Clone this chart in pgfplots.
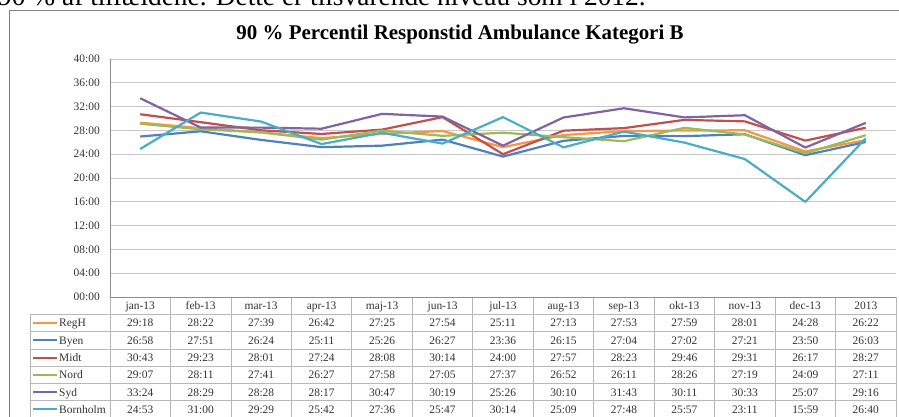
\documentclass[border=0pt]{standalone}
\usepackage{fontspec}
\setmainfont{Liberation Serif}
\usepackage{pgfplots}
\pgfplotsset{compat=1.18}
\definecolor{cRegH}{HTML}{F79646}
\definecolor{cByen}{HTML}{4F81BD}
\definecolor{cMidt}{HTML}{C0504D}
\definecolor{cNord}{HTML}{9BBB59}
\definecolor{cSyd}{HTML}{8064A2}
\definecolor{cBorn}{HTML}{4BACC6}
\newcommand{\tf}{\fontsize{11.5}{13}\selectfont}
\def\cw{60.4615}
\newcommand{\tablerow}[4]{%
  \draw[#3, line width=2bp] (33,{93.05-17.3*#1}) -- (57,{93.05-17.3*#1});
  \node[anchor=base west, inner sep=0, font=\tf, text=black!80] at (59,{89.05-17.3*#1}) {#2};
  \foreach \v [count=\c from 0] in {#4} {
    \node[anchor=base, inner sep=0, font=\tf, text=black!80] at ({110+(\c+0.5)*\cw},{89.05-17.3*#1}) {\v};
  }%
}
\begin{document}
\begin{tikzpicture}[x=1bp,y=1bp]
\useasboundingbox (0,0) rectangle (899,416);
\clip (0,0) rectangle (899,416);
\node[anchor=base west, inner sep=0, font=\fontsize{27.5}{32}\selectfont] at (-2,410) {90 \% af tilfældene. Dette er tilsvarende niveau som i 2012.};
\draw[black!50, line width=0.9bp] (9.5,-20) -- (9.5,405.3) -- (920,405.3);
\node[anchor=base, inner sep=0, font=\bfseries\fontsize{21}{25}\selectfont] at (460,376.7) {90 \% Percentil Responstid Ambulance Kategori B};
\begin{axis}[
  at={(110bp,119bp)}, anchor=south west,
  scale only axis, width=786bp, height=238bp,
  xmin=-0.5, xmax=12.5, ymin=0, ymax=40,
  xtick=\empty,
  ytick={0,4,...,40},
  yticklabels={00:00,04:00,08:00,12:00,16:00,20:00,24:00,28:00,32:00,36:00,40:00},
  ymajorgrids, major grid style={draw=black!22, line width=0.9bp},
  axis lines*=left, axis line style={draw=black!45, line width=0.8bp},
  ytick style={draw=none},
  yticklabel style={font=\tf, text=black!80, inner sep=0pt, xshift=-10bp},
  every axis plot/.append style={line width=2.2bp, line join=round, mark=none},
  clip=false,
]
\addplot[cRegH] coordinates {(0,29.3) (1,28.367) (2,27.65) (3,26.7) (4,27.417) (5,27.9) (6,25.183) (7,27.217) (8,27.883) (9,27.983) (10,28.017) (11,24.467) (12,26.367)};
\addplot[cByen] coordinates {(0,26.967) (1,27.85) (2,26.4) (3,25.183) (4,25.433) (5,26.45) (6,23.6) (7,26.25) (8,27.067) (9,27.033) (10,27.35) (11,23.833) (12,26.05)};
\addplot[cMidt] coordinates {(0,30.717) (1,29.383) (2,28.017) (3,27.4) (4,28.133) (5,30.233) (6,24.0) (7,27.95) (8,28.383) (9,29.767) (10,29.517) (11,26.283) (12,28.45)};
\addplot[cNord] coordinates {(0,29.117) (1,28.183) (2,27.683) (3,26.45) (4,27.967) (5,27.083) (6,27.617) (7,26.867) (8,26.183) (9,28.433) (10,27.317) (11,24.15) (12,27.183)};
\addplot[cSyd] coordinates {(0,33.4) (1,28.483) (2,28.467) (3,28.283) (4,30.783) (5,30.317) (6,25.433) (7,30.167) (8,31.717) (9,30.183) (10,30.55) (11,25.117) (12,29.267)};
\addplot[cBorn] coordinates {(0,24.883) (1,31.0) (2,29.483) (3,25.7) (4,27.6) (5,25.783) (6,30.233) (7,25.15) (8,27.8) (9,25.95) (10,23.183) (11,15.983) (12,26.667)};
\end{axis}
% table grid
\foreach \k in {1,...,13} \draw[black!28, line width=0.8bp] ({110+\k*\cw},119) -- ({110+\k*\cw},-5);
\draw[black!28, line width=0.8bp] (110,119) -- (110,-5);
\draw[black!28, line width=0.8bp] (30,101.7) -- (30,-5);
\foreach \yy in {101.7,84.4,67.1,49.8,32.5,15.2} \draw[black!28, line width=0.8bp] (30,\yy) -- (896,\yy);
\draw[black!45, line width=0.8bp] (110,119) -- (896,119);
% header
\foreach \h [count=\c from 0] in {jan-13,feb-13,mar-13,apr-13,maj-13,jun-13,jul-13,aug-13,sep-13,okt-13,nov-13,dec-13,2013}
  \node[anchor=base, inner sep=0, font=\tf, text=black!80] at ({110+(\c+0.5)*\cw},106.3) {\h};
\tablerow{0}{RegH}{cRegH}{29:18,28:22,27:39,26:42,27:25,27:54,25:11,27:13,27:53,27:59,28:01,24:28,26:22}
\tablerow{1}{Byen}{cByen}{26:58,27:51,26:24,25:11,25:26,26:27,23:36,26:15,27:04,27:02,27:21,23:50,26:03}
\tablerow{2}{Midt}{cMidt}{30:43,29:23,28:01,27:24,28:08,30:14,24:00,27:57,28:23,29:46,29:31,26:17,28:27}
\tablerow{3}{Nord}{cNord}{29:07,28:11,27:41,26:27,27:58,27:05,27:37,26:52,26:11,28:26,27:19,24:09,27:11}
\tablerow{4}{Syd}{cSyd}{33:24,28:29,28:28,28:17,30:47,30:19,25:26,30:10,31:43,30:11,30:33,25:07,29:16}
\tablerow{5}{Bornholm}{cBorn}{24:53,31:00,29:29,25:42,27:36,25:47,30:14,25:09,27:48,25:57,23:11,15:59,26:40}
\end{tikzpicture}
\end{document}
